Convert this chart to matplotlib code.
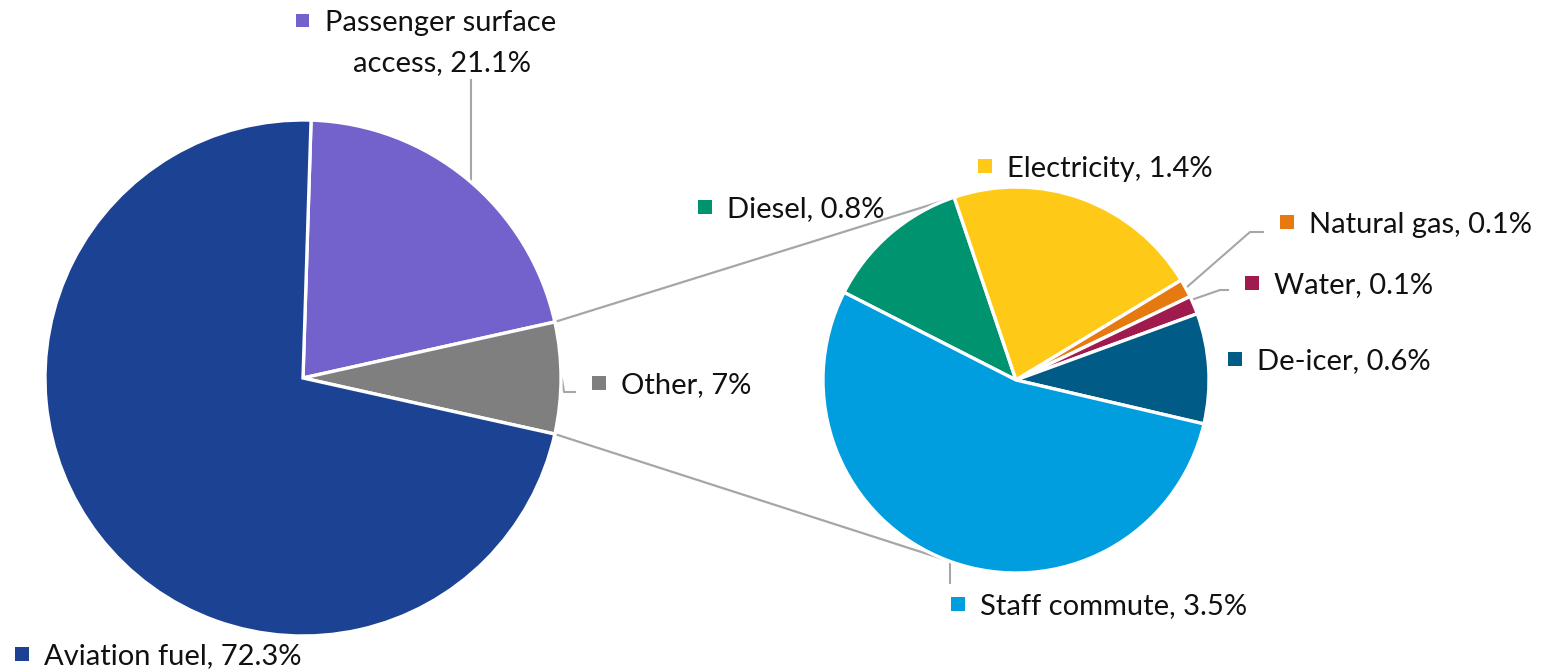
import numpy as np
import matplotlib
matplotlib.use("Agg")
import matplotlib.pyplot as plt
from matplotlib.patches import Rectangle

# Main breakdown (left pie)
main_labels = ["Passenger surface\naccess", "Other", "Aviation fuel"]
main_values = [21.1, 7, 72.3]
main_colors = ["#7462CC", "#7F7F7F", "#1B4293"]

# Breakdown of "Other" (right pie)
sub_labels = ["Diesel", "Electricity", "Natural gas", "Water", "De-icer", "Staff commute"]
sub_values = [0.8, 1.4, 0.1, 0.1, 0.6, 3.5]
sub_colors = ["#00936F", "#FFCA17", "#E6790F", "#A01A4D", "#005B86", "#009EDE"]

W, H = 1542, 670
FONT = "Lato"
FS = 21
LINE_C = "#A6A6A6"


def fy(y):
    return H - y


fig = plt.figure(figsize=(W / 100, H / 100), dpi=100)
ax = fig.add_axes([0, 0, 1, 1])

# left pie: "Other" slice centred on the horizontal axis
tot = sum(main_values)
main_start = (main_values[0] + main_values[1] / 2) / tot * 360
c1, r1 = (303, fy(378)), 258
w1, _ = ax.pie(main_values, colors=main_colors, startangle=main_start,
               counterclock=False, center=c1, radius=r1,
               wedgeprops=dict(edgecolor="white", linewidth=2.4))

c2, r2 = (1016, fy(380)), 193
w2, _ = ax.pie(sub_values, colors=sub_colors, startangle=153,
               counterclock=False, center=c2, radius=r2,
               wedgeprops=dict(edgecolor="white", linewidth=2.4))

# connector lines between the "Other" slice and the secondary pie
other = w1[1]
for ang1, ang2 in [(other.theta2, 110.6), (other.theta1, -110.6)]:
    a1, a2 = np.radians(ang1), np.radians(ang2)
    p1 = (c1[0] + r1 * np.cos(a1), c1[1] + r1 * np.sin(a1))
    p2 = (c2[0] + r2 * np.cos(a2), c2[1] + r2 * np.sin(a2))
    ax.plot([p1[0], p2[0]], [p1[1], p2[1]], color=LINE_C, lw=1.6,
            solid_capstyle="butt", zorder=0)

# leader lines
leaders = [
    [(471, 80), (471, 182)],
    [(562, 379), (564, 392), (575, 392)],
    [(950, 562), (950, 583)],
    [(1187, 287), (1250, 232), (1263, 232)],
    [(1194, 299), (1220, 290), (1228, 290)],
]
for pts in leaders:
    xs = [p[0] for p in pts]
    ys = [fy(p[1]) for p in pts]
    ax.plot(xs, ys, color=LINE_C, lw=1.5, zorder=0)


def label(x, y, text, color, msize=14, gap=15):
    ax.add_patch(Rectangle((x, fy(y) - msize / 2), msize, msize,
                           facecolor=color, edgecolor="none"))
    ax.text(x + msize + gap, fy(y), text, fontsize=FS, family=FONT,
            color="#111111", ha="left", va="center_baseline")


# data labels
label(15, 654, f"Aviation fuel, {main_values[2]}%", main_colors[2])
label(592, 383, f"Other, {main_values[1]:g}%", main_colors[1])
# two-line label for passenger surface access
ax.add_patch(Rectangle((296, fy(20) - 7), 13, 13, facecolor=main_colors[0], edgecolor="none"))
ax.text(441, fy(20), "Passenger surface", fontsize=FS, family=FONT,
        color="#111111", ha="center", va="center_baseline")
ax.text(442, fy(61), f"access, {main_values[0]}%", fontsize=FS, family=FONT,
        color="#111111", ha="center", va="center_baseline")

sub_pos = [(698, 207), (978, 166), (1280, 222), (1245, 283), (1228, 359), (951, 604)]
for (x, y), name, val, col in zip(sub_pos, sub_labels, sub_values, sub_colors):
    label(x, y, f"{name}, {val}%", col)

ax.set_xlim(0, W)
ax.set_ylim(0, H)
ax.set_aspect("equal")
ax.axis("off")
fig.savefig("out.png", dpi=100)
